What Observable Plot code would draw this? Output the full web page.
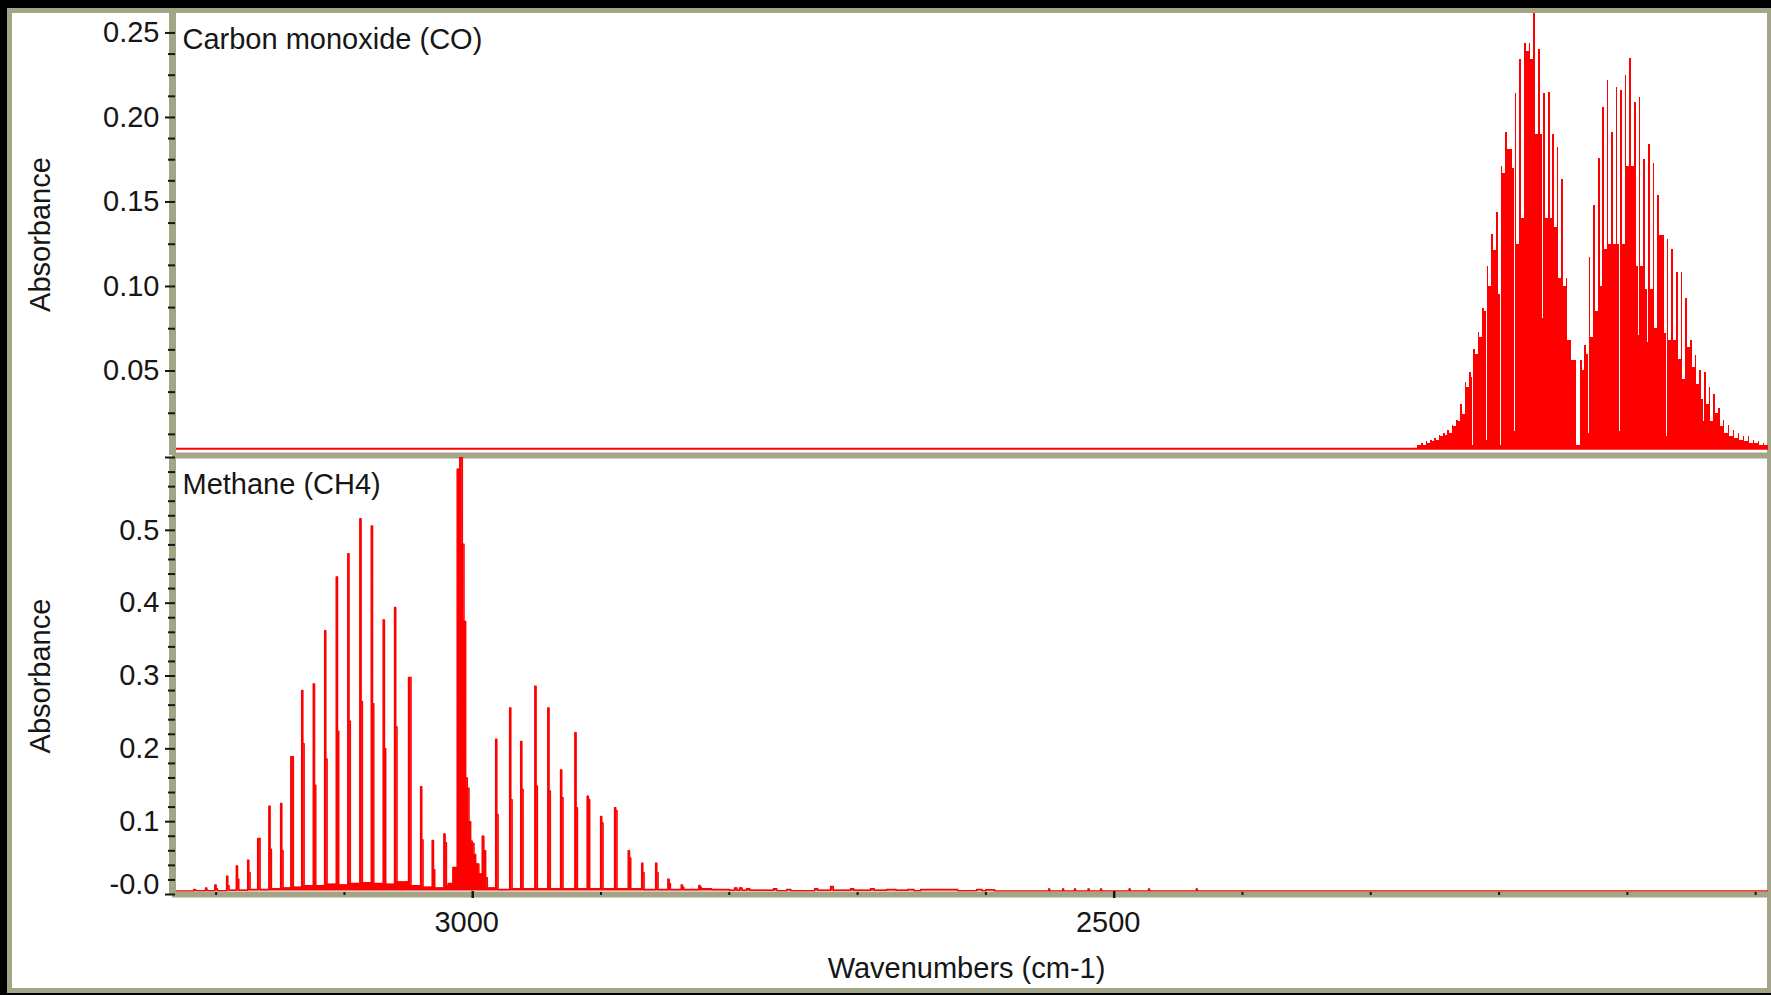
<!DOCTYPE html>
<html>
<head>
<meta charset="utf-8">
<script src="https://cdn.jsdelivr.net/npm/d3@7"></script>
<script src="https://cdn.jsdelivr.net/npm/@observablehq/plot@0.6"></script>
<style>
  html, body { margin: 0; padding: 0; background: #000; width: 1771px; height: 995px; overflow: hidden; }
  #win { position: absolute; left: 7px; top: 8px; width: 1764px; height: 985px; background: #a4a487; }
  #inner { position: absolute; left: 12px; top: 13px; width: 1755px; height: 975px; background: #fff; }
  #chart { position: absolute; left: 0; top: 0; width: 1771px; height: 995px; }
  #chart svg { position: absolute; left: 0; top: 0; }
</style>
</head>
<body>
<div id="win"></div>
<div id="inner"></div>
<div id="chart"></div>
<script>
// ---------------- shared axis data ----------------
const xDomain = [3234, 1990];                 // wavenumber range shown (cm-1), high -> low
const xMajorTicks = [3000, 2500];
const xMajorLabels = ["3000", "2500"];
const xMinorTicks = [3200, 3100, 2900, 2800, 2700, 2600, 2400, 2300, 2200, 2100, 2000];
const xTitle = "Wavenumbers (cm-1)";
const yTitle = "Absorbance";

// ---------------- Carbon monoxide panel ----------------
const coTitle = "Carbon monoxide (CO)";
const coYDomain = [0, 0.2615];
const coYTicks = [0.05, 0.10, 0.15, 0.20, 0.25];
const coYLabels = ["0.05", "0.10", "0.15", "0.20", "0.25"];
const coYMinor = [0.0125, 0.025, 0.0375, 0.0625, 0.075, 0.0875, 0.1125, 0.125, 0.1375,
                  0.1625, 0.175, 0.1875, 0.2125, 0.225, 0.2375];
const coBase = 0.004;
// rotational lines: position, needle height, shoulder level, depth of the gap after the line
const coNu = [2263.4, 2260.1, 2256.8, 2253.4, 2250.0, 2246.6, 2243.2, 2239.9, 2236.5, 2233.1, 2229.7,
  2226.4, 2223.0, 2219.6, 2216.2, 2212.9, 2209.2, 2205.6, 2201.9, 2198.3, 2194.7, 2191.0, 2187.4,
  2183.8, 2180.1, 2176.5, 2172.8, 2168.9, 2165.0, 2161.4, 2158.0, 2154.7, 2151.0, 2147.4, 2144.3, 2141.7,
  2136.5, 2133.1, 2129.7, 2126.1, 2122.4, 2119.1, 2115.7, 2112.0, 2108.7, 2105.0, 2101.6, 2098.0,
  2094.4, 2090.7, 2087.1, 2083.5, 2079.8, 2076.2, 2072.6, 2068.9, 2065.3, 2061.6, 2058.0, 2054.4,
  2050.7, 2047.1, 2043.5, 2039.8, 2036.2, 2032.5, 2028.9, 2025.3, 2021.4, 2017.5, 2013.6, 2009.7,
  2005.8, 2001.9, 1998.0, 1994.1, 1990.2];
const coPeak = [0.006, 0.007, 0.008, 0.009, 0.010, 0.012, 0.013, 0.015, 0.018, 0.021, 0.030,
  0.043, 0.049, 0.063, 0.073, 0.087, 0.112, 0.131, 0.144, 0.171, 0.191, 0.181, 0.214,
  0.234, 0.244, 0.244, 0.262, 0.240, 0.214, 0.215, 0.190, 0.182, 0.163, 0.105, 0.068, 0.056,
  0.056, 0.065, 0.117, 0.148, 0.176, 0.206, 0.222, 0.191, 0.218, 0.216, 0.225, 0.235,
  0.209, 0.212, 0.175, 0.184, 0.173, 0.154, 0.130, 0.128, 0.122, 0.108, 0.108, 0.093,
  0.068, 0.059, 0.050, 0.049, 0.040, 0.036, 0.028, 0.021, 0.018, 0.015, 0.013, 0.011,
  0.011, 0.009, 0.008, 0.0073, 0.0073];
const coShoulder = [0.006, 0.006, 0.007, 0.008, 0.009, 0.011, 0.012, 0.013, 0.017, 0.020, 0.024,
  0.040, 0.046, 0.060, 0.070, 0.085, 0.100, 0.121, 0.095, 0.167, 0.181, 0.170, 0.125,
  0.140, 0.239, 0.234, 0.190, 0.190, 0.140, 0.140, 0.135, 0.105, 0.100, 0.068, 0.056, 0.006,
  0.050, 0.060, 0.070, 0.085, 0.100, 0.122, 0.125, 0.125, 0.125, 0.125, 0.171, 0.171,
  0.112, 0.112, 0.098, 0.098, 0.075, 0.130, 0.072, 0.068, 0.068, 0.057, 0.045, 0.064,
  0.052, 0.042, 0.033, 0.030, 0.020, 0.025, 0.017, 0.013, 0.011, 0.010, 0.009, 0.008,
  0.007, 0.007, 0.006, 0.006, 0.006];
const coGap = [0.006, 0.006, 0.007, 0.008, 0.009, 0.011, 0.012, 0.013, 0.017, 0.020, 0.024,
  0.040, 0.006, 0.060, 0.070, 0.009, 0.100, 0.121, 0.006, 0.167, 0.181, 0.014, 0.125,
  0.140, 0.239, 0.234, 0.190, 0.081, 0.140, 0.140, 0.135, 0.105, 0.100, 0.068, 0.056, 0.006,
  0.050, 0.013, 0.070, 0.085, 0.100, 0.122, 0.125, 0.125, 0.014, 0.125, 0.171, 0.171,
  0.071, 0.112, 0.067, 0.098, 0.075, 0.130, 0.011, 0.068, 0.068, 0.057, 0.045, 0.064,
  0.052, 0.042, 0.020, 0.030, 0.020, 0.025, 0.017, 0.013, 0.011, 0.010, 0.009, 0.008,
  0.007, 0.007, 0.006, 0.006, 0.006];

// ---------------- Methane panel ----------------
const ch4Title = "Methane (CH4)";
const ch4YDomain = [0, 0.6];
const ch4YTicks = [0, 0.1, 0.2, 0.3, 0.4, 0.5];
const ch4YLabels = ["-0.0", "0.1", "0.2", "0.3", "0.4", "0.5"];
const ch4YTickMarks = [0, 0.1, 0.2, 0.3, 0.4, 0.5, 0.6];
const ch4YMinor = [0.02, 0.04, 0.06, 0.08, 0.12, 0.14, 0.16, 0.18, 0.22, 0.24, 0.26, 0.28,
                   0.32, 0.34, 0.36, 0.38, 0.42, 0.44, 0.46, 0.48, 0.52, 0.54, 0.56, 0.58];
const ch4Base = 0.0048;
// R branch lines
const ch4RNu = [3217.3, 3208.2, 3200.9, 3191.8, 3184.2, 3175.4, 3167.6, 3158.8, 3149.7, 3141.7, 3133.3,
  3124.2, 3115.4, 3106.3, 3097.3, 3087.9, 3079.0, 3069.7, 3060.9, 3050.0, 3040.6, 3031.5, 3022.4];
const ch4RPeak = [0.007, 0.009, 0.013, 0.025, 0.039, 0.047, 0.077, 0.121, 0.125, 0.189, 0.280,
  0.289, 0.362, 0.436, 0.468, 0.516, 0.506, 0.377, 0.394, 0.298, 0.148, 0.074, 0.083];
const ch4RShoulder = [0.006, 0.006, 0.008, 0.012, 0.021, 0.030, 0.077, 0.062, 0.060, 0.189, 0.207,
  0.150, 0.186, 0.224, 0.238, 0.265, 0.262, 0.200, 0.230, 0.298, 0.075, 0.034, 0.071];
const ch4RValley = [0.005, 0.005, 0.005, 0.006, 0.006, 0.007, 0.007, 0.008, 0.009, 0.010, 0.012,
  0.012, 0.014, 0.013, 0.015, 0.016, 0.015, 0.014, 0.017, 0.012, 0.010, 0.009, 0.012];
// Q branch profile
const ch4QNu = [3019.0, 3015.4, 3012.0, 3010.0, 3008.1, 3006.8, 3005.5, 3004.2, 3002.9, 3001.6,
  3000.3, 2999.0, 2997.7, 2995.2, 2992.5, 2991.3, 2989.9, 2988.6];
const ch4QAbs = [0.015, 0.037, 0.584, 0.61, 0.481, 0.375, 0.16, 0.146, 0.10, 0.073,
  0.070, 0.055, 0.042, 0.028, 0.080, 0.060, 0.023, 0.009];
// P branch lines
const ch4PNu = [2982.1, 2971.2, 2962.6, 2951.5, 2941.4, 2931.5, 2920.3, 2910.7, 2900.3, 2889.4,
  2878.7, 2868.3, 2857.4, 2847.8, 2837.4, 2823.7];
const ch4PPeak = [0.213, 0.256, 0.210, 0.286, 0.256, 0.171, 0.222, 0.135, 0.107, 0.119,
  0.060, 0.043, 0.043, 0.021, 0.013, 0.0125];
const ch4PShoulder = [0.110, 0.130, 0.144, 0.149, 0.142, 0.133, 0.119, 0.130, 0.098, 0.115,
  0.050, 0.030, 0.030, 0.015, 0.010, 0.010];
const ch4PValley = [0.007, 0.008, 0.008, 0.008, 0.008, 0.008, 0.008, 0.008, 0.008, 0.008,
  0.008, 0.007, 0.007, 0.007, 0.007, 0.008];
// weak tail / noise
const ch4TailNu = [2822.4, 2813.8, 2800.0, 2795.9, 2794.0, 2792.0, 2790.0, 2786.5, 2784.0, 2765.5,
  2763.0, 2755.3, 2752.0, 2733.5, 2731.0, 2721.0, 2719.0, 2705.4, 2703.0, 2689.9, 2687.0, 2677.4,
  2670.0, 2661.0, 2656.0, 2650.9, 2622.0, 2607.2, 2603.0, 2600.0, 2593.2, 2551.1, 2550.3, 2540.2,
  2539.4, 2530.9, 2530.1, 2520.3, 2519.5, 2510.6, 2509.8, 2488.3, 2487.5, 2473.2, 2472.4, 2436.0, 2435.2];
const ch4TailAbs = [0.008, 0.007, 0.006, 0.009, 0.006, 0.009, 0.006, 0.008, 0.006, 0.008,
  0.005, 0.007, 0.005, 0.008, 0.006, 0.011, 0.006, 0.008, 0.006, 0.008, 0.006, 0.007,
  0.006, 0.007, 0.005, 0.007, 0.005, 0.007, 0.005, 0.0065, 0.0048, 0.0075, 0.0048, 0.0075,
  0.0048, 0.0075, 0.0048, 0.0075, 0.0048, 0.0075, 0.0048, 0.0075, 0.0048, 0.0075, 0.0048, 0.0075, 0.0048];

// ---------------- build point tables ----------------
const red = "#ff0000", olive = "#a4a487", ink = "#161616";
const W = 1771, H = 995;
const font = "'Liberation Sans', Arial, Helvetica, sans-serif";

function coPoints() {
  const pts = [{nu: xDomain[0], a: coBase}];
  let d = 3.6;
  coNu.forEach((v, i) => {
    if (i + 1 < coNu.length) d = v - coNu[i + 1];
    pts.push({nu: v, a: coPeak[i]});
    pts.push({nu: v - 0.34 * d, a: coShoulder[i]});
    pts.push({nu: v - 0.76 * d, a: coGap[i]});
  });
  pts.push({nu: coNu[coNu.length - 1] - d, a: coBase});
  return pts;
}

function ch4Points() {
  const pts = [{nu: xDomain[0], a: ch4Base}];
  const addLines = (nu, pk, sh, va) => nu.forEach((v, i) => {
    pts.push({nu: v, a: pk[i]});
    pts.push({nu: v - 0.9, a: sh[i]});
    pts.push({nu: v - 1.9, a: va[i]});
  });
  addLines(ch4RNu, ch4RPeak, ch4RShoulder, ch4RValley);
  ch4QNu.forEach((v, i) => pts.push({nu: v, a: ch4QAbs[i]}));
  addLines(ch4PNu, ch4PPeak, ch4PShoulder, ch4PValley);
  ch4TailNu.forEach((v, i) => pts.push({nu: v, a: ch4TailAbs[i]}));
  pts.push({nu: xDomain[1], a: ch4Base});
  return pts;
}

const coLabelMap = new Map(coYTicks.map((v, i) => [v, coYLabels[i]]));
const ch4LabelMap = new Map(ch4YTicks.map((v, i) => [v, ch4YLabels[i]]));
const xLabelMap = new Map(xMajorTicks.map((v, i) => [v, xMajorLabels[i]]));

const style = {background: "transparent", fontFamily: font, fontSize: "29px", color: ink, overflow: "visible"};

const coPlot = Plot.plot({
  width: W, height: H,
  marginLeft: 172, marginRight: 3, marginTop: 13, marginBottom: H - 455,
  x: {domain: xDomain, axis: null, label: null},
  y: {domain: coYDomain, axis: null, label: null},
  style,
  marks: [
    Plot.ruleY([coBase], {stroke: red, strokeWidth: 2}),
    Plot.areaY(coPoints(), {x: "nu", y1: coBase, y2: "a", curve: "step-after", fill: red,
      shapeRendering: "crispEdges", clip: true}),
    Plot.ruleY([0], {stroke: olive, strokeWidth: 6}),
    Plot.ruleX([xDomain[0]], {stroke: olive, strokeWidth: 7}),
    Plot.axisY(coYMinor, {anchor: "left", tickSize: 7, dx: 3, stroke: ink, strokeWidth: 2, fill: "none", label: null}),
    Plot.axisY(coYTicks, {anchor: "left", tickSize: 10, dx: 3, stroke: ink, strokeWidth: 2, fill: "none", label: null}),
    Plot.axisY(coYTicks, {anchor: "left", tickSize: 0, tickPadding: 16, dx: 3, fill: ink, fontSize: 29,
      tickFormat: d => coLabelMap.get(d), label: null}),
    Plot.text([coTitle], {frameAnchor: "top-left", dx: 10, dy: 26, text: d => d, fill: ink, fontSize: 29,
      lineAnchor: "middle", textAnchor: "start"}),
    Plot.text([yTitle], {frameAnchor: "left", dx: -132, rotate: -90, text: d => d, fill: ink, fontSize: 29,
      lineAnchor: "middle", textAnchor: "middle"})
  ]
});

const ch4Pts = ch4Points();
const ch4Plot = Plot.plot({
  width: W, height: H,
  marginLeft: 172, marginRight: 3, marginTop: 457, marginBottom: H - 894,
  x: {domain: xDomain, axis: null, label: null},
  y: {domain: ch4YDomain, axis: null, label: null},
  style,
  marks: [
    Plot.areaY(ch4Pts, {x: "nu", y1: ch4Base, y2: "a", curve: "step-after", fill: red, clip: true}),
    Plot.line(ch4Pts, {x: "nu", y: "a", curve: "step-after", stroke: red, strokeWidth: 1.5, clip: true}),
    Plot.ruleY([0], {stroke: olive, strokeWidth: 6}),
    Plot.ruleX([xDomain[0]], {stroke: olive, strokeWidth: 7}),
    Plot.axisY(ch4YMinor, {anchor: "left", tickSize: 7, dx: 3, stroke: ink, strokeWidth: 2, fill: "none", label: null}),
    Plot.axisY(ch4YTickMarks, {anchor: "left", tickSize: 10, dx: 3, stroke: ink, strokeWidth: 2, fill: "none", label: null}),
    Plot.axisY(ch4YTicks.filter(d => d !== 0), {anchor: "left", tickSize: 0, tickPadding: 16, dx: 3, fill: ink, fontSize: 29,
      tickFormat: d => ch4LabelMap.get(d), label: null}),
    Plot.axisY([0], {anchor: "left", tickSize: 0, tickPadding: 16, dx: 3, dy: -10, fill: ink, fontSize: 29,
      tickFormat: d => ch4LabelMap.get(d), label: null}),
    Plot.axisX(xMinorTicks, {anchor: "bottom", tickSize: 3, dy: -2, stroke: ink, strokeWidth: 2, fill: "none", label: null}),
    Plot.axisX(xMajorTicks, {anchor: "bottom", tickSize: 7, dy: -3, stroke: ink, strokeWidth: 2.5, fill: "none", label: null}),
    Plot.axisX(xMajorTicks, {anchor: "bottom", tickSize: 0, tickPadding: 17, dx: -6, fill: ink, fontSize: 29,
      tickFormat: d => xLabelMap.get(d), label: null}),
    Plot.text([ch4Title], {frameAnchor: "top-left", dx: 10, dy: 27, text: d => d, fill: ink, fontSize: 29,
      lineAnchor: "middle", textAnchor: "start"}),
    Plot.text([yTitle], {frameAnchor: "left", dx: -132, rotate: -90, text: d => d, fill: ink, fontSize: 29,
      lineAnchor: "middle", textAnchor: "middle"}),
    Plot.text([xTitle], {frameAnchor: "bottom", dx: -4, dy: 74, text: d => d, fill: ink, fontSize: 29,
      lineAnchor: "middle", textAnchor: "middle"})
  ]
});

const chart = document.getElementById("chart");
chart.appendChild(coPlot);
chart.appendChild(ch4Plot);
</script>
</body>
</html>
